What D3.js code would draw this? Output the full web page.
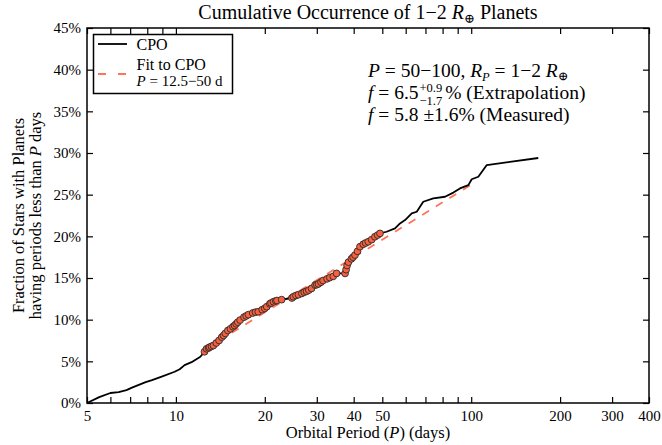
<!DOCTYPE html>
<html>
<head>
<meta charset="utf-8">
<script src="https://cdn.jsdelivr.net/npm/d3@7"></script>
<style>
  body { margin: 0; background: #fff; }
  svg text { font-family: "Liberation Serif", "DejaVu Serif", serif; fill: #000; }
</style>
</head>
<body>
<div id="chart"></div>
<script>
// CPO curve (orbital period in days, cumulative fraction in %)
const cpoPeriod = [5.0, 5.5, 6.0, 6.4, 6.8, 7.1, 7.9, 8.3, 9.0, 9.9, 10.3, 10.7, 11.3, 12.1,
  12.5, 12.7, 12.9, 13.0, 13.2, 13.4, 13.7, 14.0, 14.3, 14.5, 14.7, 15.0, 15.3, 15.6, 15.8,
  16.0, 16.2, 16.5, 17.0, 17.3, 17.6, 18.2, 18.6, 19.0, 19.6, 20.0, 20.3, 20.8, 21.0, 21.4,
  21.8, 22.0, 22.8, 24.7, 25.0, 25.5, 26.0, 26.7, 27.2, 27.7, 28.2, 28.8, 29.6, 30.0, 30.4,
  31.0, 31.5, 32.5, 33.2, 34.1, 35.0, 37.4, 37.7, 38.0, 38.4, 39.3, 39.8, 40.4, 41.2, 42.0,
  43.1, 43.9, 44.8, 46.0, 47.2, 48.2, 49.1,
  51.7, 55.2, 57.4, 59.7, 62.9, 65.4, 68.8, 74.4, 81.5, 87.0, 91.6, 97.8, 100.4, 105.7, 112.9, 168.7];
const cpoFraction = [0.0, 0.7, 1.2, 1.3, 1.55, 1.85, 2.5, 2.75, 3.2, 3.75, 4.05, 4.55, 4.9, 5.55,
  6.15, 6.5, 6.6, 6.7, 6.8, 6.9, 7.2, 7.5, 7.9, 8.1, 8.35, 8.7, 8.9, 9.15, 9.3,
  9.5, 9.7, 9.95, 10.3, 10.45, 10.6, 10.8, 10.9, 10.95, 11.2, 11.35, 11.55, 11.9, 12.0, 12.15,
  12.25, 12.3, 12.4, 12.6, 12.75, 12.9, 13.0, 13.15, 13.3, 13.4, 13.55, 13.75, 14.15, 14.2, 14.3,
  14.5, 14.7, 14.9, 15.05, 15.2, 15.55, 15.55, 16.0, 16.5, 16.9, 17.3, 17.5, 17.75, 18.2, 18.75,
  19.05, 19.2, 19.35, 19.6, 19.95, 20.15, 20.35,
  20.55, 20.95, 21.55, 21.95, 22.75, 22.95, 24.15, 24.55, 24.75, 25.25, 25.75, 26.15, 26.85, 27.15, 28.55, 29.4];

// fit to CPO over P = 12.5-50 d, drawn out to 100 d
const fitRange = [12.5, 50];
const fitPeriod = [12.5, 100];
const fitFraction = [6.4, 26.2];

// axis ticks
const xTickValues = [5, 6, 7, 8, 9, 10, 20, 30, 40, 50, 60, 70, 80, 90, 100, 200, 300, 400];
const xTickLabels = [5, 10, 20, 30, 40, 50, 100, 200, 300, 400];
const yTickValues = [0, 5, 10, 15, 20, 25, 30, 35, 40, 45];

const config = {
  width: 662,
  height: 445,
  left: 87, right: 649, top: 28, bottom: 403,
  cpoColor: '#000',
  pointColor: '#F8613F',
  fitColor: '#FF7458'
};

const svg = d3.select("#chart").append("svg")
    .attr("width", config.width)
    .attr("height", config.height);

const x = d3.scaleLog().domain([5, 400]).range([config.left, config.right]);
const y = d3.scaleLinear().domain([0, 45]).range([config.bottom, config.top]);

const cpo = cpoPeriod.map((p, i) => ({ p, f: cpoFraction[i] }));
const fit = fitPeriod.map((p, i) => ({ p, f: fitFraction[i] }));

// Axes (ticks point inward, all four sides)
const xFormat = d => xTickLabels.includes(d) ? String(d) : "";

const bottomAxis = svg.append("g")
    .attr("transform", `translate(0,${config.bottom})`)
    .call(d3.axisBottom(x).tickValues(xTickValues).tickFormat(xFormat).tickSize(-6).tickPadding(5));
svg.append("g")
    .attr("transform", `translate(0,${config.top})`)
    .call(d3.axisTop(x).tickValues(xTickValues).tickFormat("").tickSize(-6));
svg.append("g")
    .attr("transform", `translate(${config.left},0)`)
    .call(d3.axisLeft(y).tickValues(yTickValues).tickFormat(d => d + "%").tickSize(-6).tickPadding(6));
svg.append("g")
    .attr("transform", `translate(${config.right},0)`)
    .call(d3.axisRight(y).tickValues(yTickValues).tickFormat("").tickSize(-6));

svg.selectAll(".domain").remove();
svg.selectAll(".tick line").attr("stroke", "#000").attr("stroke-width", 1.2);
svg.selectAll(".tick text").style("font-size", "15px").attr("fill", "#000");
bottomAxis.selectAll(".tick text").attr("dy", "0.85em");

// Fit line (dashed)
const line = d3.line().x(d => x(d.p)).y(d => y(d.f));

svg.append("path")
    .datum(fit)
    .attr("d", line)
    .attr("fill", "none")
    .attr("stroke", config.fitColor)
    .attr("stroke-width", 1.8)
    .attr("stroke-dasharray", "8,8");

// CPO curve
svg.append("path")
    .datum(cpo)
    .attr("d", line)
    .attr("fill", "none")
    .attr("stroke", config.cpoColor)
    .attr("stroke-width", 1.8)
    .attr("stroke-linejoin", "round");

// points used in the fit
svg.selectAll(".pt")
    .data(cpo.filter(d => d.p >= fitRange[0] && d.p <= fitRange[1]))
    .enter()
    .append("circle")
    .attr("class", "pt")
    .attr("cx", d => x(d.p))
    .attr("cy", d => y(d.f))
    .attr("r", 3.4)
    .attr("fill", config.pointColor)
    .attr("stroke", "#2a2a2a")
    .attr("stroke-width", 0.9);

// frame
svg.append("rect")
    .attr("x", config.left)
    .attr("y", config.top)
    .attr("width", config.right - config.left)
    .attr("height", config.bottom - config.top)
    .attr("fill", "none")
    .attr("stroke", "#000")
    .attr("stroke-width", 1.5);

// Title
const title = svg.append("text")
    .attr("x", (config.left + config.right) / 2)
    .attr("y", 19)
    .attr("text-anchor", "middle")
    .style("font-size", "20px");
title.append("tspan").text("Cumulative Occurrence of 1\u22122 ");
title.append("tspan").style("font-style", "italic").text("R");
title.append("tspan").attr("dy", 4).style("font-size", "13px").text("\u2295");
title.append("tspan").attr("dy", -4).text(" Planets");

// Axis labels
const xl = svg.append("text")
    .attr("x", (config.left + config.right) / 2)
    .attr("y", 438)
    .attr("text-anchor", "middle")
    .style("font-size", "16.5px");
xl.append("tspan").text("Orbital Period (");
xl.append("tspan").style("font-style", "italic").text("P");
xl.append("tspan").text(") (days)");

const yMid = (config.top + config.bottom) / 2;
svg.append("text")
    .attr("transform", `translate(24,${yMid}) rotate(-90)`)
    .attr("text-anchor", "middle")
    .style("font-size", "16.5px")
    .text("Fraction of Stars with Planets");
const yl2 = svg.append("text")
    .attr("transform", `translate(41,${yMid}) rotate(-90)`)
    .attr("text-anchor", "middle")
    .style("font-size", "16.5px");
yl2.append("tspan").text("having periods less than ");
yl2.append("tspan").style("font-style", "italic").text("P");
yl2.append("tspan").text(" days");

// Legend
const legend = svg.append("g");
legend.append("rect")
    .attr("x", 93.5).attr("y", 34.5)
    .attr("width", 139).attr("height", 59)
    .attr("fill", "#fff")
    .attr("stroke", "#000")
    .attr("stroke-width", 1.5);
legend.append("line")
    .attr("x1", 98).attr("x2", 127).attr("y1", 44).attr("y2", 44)
    .attr("stroke", config.cpoColor).attr("stroke-width", 1.8);
legend.append("text").attr("x", 136.5).attr("y", 50).style("font-size", "16px").text("CPO");
legend.append("line")
    .attr("x1", 98).attr("x2", 127).attr("y1", 74).attr("y2", 74)
    .attr("stroke", config.fitColor).attr("stroke-width", 1.8)
    .attr("stroke-dasharray", "8,12");
legend.append("text").attr("x", 136.5).attr("y", 70).style("font-size", "16px").text("Fit to CPO");
const lg2 = legend.append("text").attr("x", 136.5).attr("y", 86).style("font-size", "15px");
lg2.append("tspan").style("font-style", "italic").text("P");
lg2.append("tspan").text(" = 12.5\u221250 d");

// Annotation
const ax = 368;
const fs = "19.5px";
const a1 = svg.append("text").attr("x", ax).attr("y", 77).style("font-size", fs);
a1.append("tspan").style("font-style", "italic").text("P");
a1.append("tspan").text(" = 50\u2212100, ");
a1.append("tspan").style("font-style", "italic").text("R");
a1.append("tspan").attr("dy", 4).style("font-size", "12.5px").style("font-style", "italic").text("P");
a1.append("tspan").attr("dy", -4).text(" = 1\u22122 ");
a1.append("tspan").style("font-style", "italic").text("R");
a1.append("tspan").attr("dy", 3).style("font-size", "12.5px").text("\u2295");

const a2 = svg.append("text").attr("x", ax).attr("y", 99).style("font-size", fs);
a2.append("tspan").style("font-style", "italic").text("f");
a2.append("tspan").text(" = 6.5");
const a2w = a2.node().getComputedTextLength();
const sup = svg.append("text").attr("x", ax + a2w + 1).attr("y", 92).style("font-size", "12.5px").text("+0.9");
const sub = svg.append("text").attr("x", ax + a2w + 1).attr("y", 104.5).style("font-size", "12.5px").text("\u22121.7");
const scriptW = Math.max(sup.node().getComputedTextLength(), sub.node().getComputedTextLength());
svg.append("text").attr("x", ax + a2w + scriptW + 4).attr("y", 99).style("font-size", fs)
    .text("% (Extrapolation)");

const a3 = svg.append("text").attr("x", ax).attr("y", 121).style("font-size", fs);
a3.append("tspan").style("font-style", "italic").text("f");
a3.append("tspan").text(" = 5.8 \u00b11.6% (Measured)");
</script>
</body>
</html>
